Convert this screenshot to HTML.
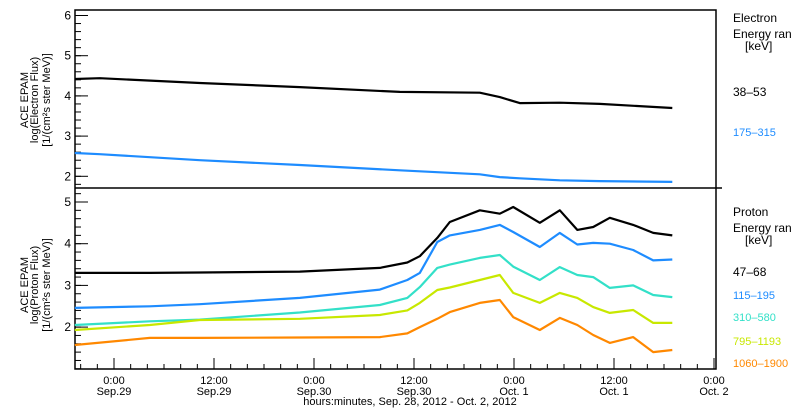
<!DOCTYPE html>
<html><head><meta charset="utf-8"><style>
body{margin:0;background:#fff;}
svg{display:block;font-family:"Liberation Sans",sans-serif;}
</style></head><body>
<svg id="c" width="800" height="410" viewBox="0 0 800 410" xmlns="http://www.w3.org/2000/svg">
<g id="axes"></g>
<g id="marks"></g>
<g font-size="11" text-anchor="middle">
<text transform="translate(28,100) rotate(-90)">ACE EPAM</text>
<text transform="translate(38,100) rotate(-90)">log(Electron Flux)</text>
<text transform="translate(50,100) rotate(-90)">[1/(cm²s ster MeV)]</text>
</g>
<g font-size="11" text-anchor="middle">
<text transform="translate(28,285) rotate(-90)">ACE EPAM</text>
<text transform="translate(38,285) rotate(-90)">log(Proton Flux)</text>
<text transform="translate(50,285) rotate(-90)">[1/(cm²s ster MeV)]</text>
</g>
<g font-size="12">
<text x="733" y="22">Electron</text><text x="733" y="38">Energy ran</text><text x="745" y="50">[keV]</text>
<text x="733" y="96" fill="#000">38–53</text><text x="733" y="136" fill="#1e8cff" font-size="11">175–315</text>
</g>
<g font-size="12">
<text x="733" y="216">Proton</text><text x="733" y="232">Energy ran</text><text x="745" y="244">[keV]</text>
<text x="733" y="276">47–68</text>
<text x="733" y="299" fill="#1e8cff" font-size="11">115–195</text>
<text x="733" y="321" fill="#33e0c8" font-size="11">310–580</text>
<text x="733" y="345" fill="#c8e800" font-size="11">795–1193</text>
<text x="733" y="367" fill="#ff8800" font-size="11">1060–1900</text>
</g>
<text x="410" y="405" font-size="11" text-anchor="middle">hours:minutes, Sep. 28, 2012 - Oct. 2, 2012</text>
</svg>
<script>
const xTickHours=[0,12,24,36,48,60,72];
const xTickTimes=["0:00","12:00","0:00","12:00","0:00","12:00","0:00"];
const xTickDates=["Sep.29","Sep.29","Sep.30","Sep.30","Oct. 1","Oct. 1","Oct. 2"];
const topTicks=[2,3,4,5,6];
const botTicks=[2,3,4,5];
const eHours=[-4.7,-1.7,10.3,22.3,34.3,43.9,46.3,48.7,53.5,58.3,67];
const e38=[4.42,4.44,4.32,4.22,4.1,4.08,3.97,3.82,3.83,3.8,3.7];
const e175=[2.58,2.55,2.4,2.28,2.15,2.05,1.98,1.95,1.9,1.88,1.86];
const pHours=[-4.7,4.3,10.3,22.3,31.9,35.2,36.7,38.8,40.3,43.9,46.3,47.9,51.1,53.5,55.6,57.5,59.5,62.3,64.7,67];
const p47=[3.3,3.3,3.31,3.33,3.42,3.55,3.7,4.14,4.52,4.8,4.72,4.88,4.5,4.8,4.33,4.4,4.62,4.45,4.26,4.2];
const p115=[2.46,2.5,2.55,2.7,2.9,3.13,3.3,4.04,4.2,4.33,4.45,4.28,3.92,4.26,3.98,4.02,4.0,3.85,3.6,3.62];
const p310=[2.05,2.14,2.18,2.35,2.53,2.7,2.96,3.42,3.5,3.66,3.73,3.45,3.13,3.44,3.25,3.2,2.94,3.0,2.77,2.72];
const p795=[1.93,2.05,2.17,2.2,2.29,2.4,2.58,2.89,2.95,3.13,3.25,2.82,2.58,2.82,2.7,2.48,2.34,2.41,2.1,2.1];
const p1060=[1.57,1.74,1.74,1.75,1.76,1.85,2.0,2.2,2.36,2.58,2.65,2.24,1.93,2.22,2.05,1.81,1.62,1.76,1.4,1.45];
const NS='http://www.w3.org/2000/svg';
const L=75,R=716,T=10,MID=188,B=369;
const xs=h=>114+h*100/12;
const yTop=v=>15.5+(6-v)*40.2;
const yBot=v=>202+(5-v)*41.7;
const axes=document.getElementById('axes'),marks=document.getElementById('marks');
function mk(tag,attrs,parent){const e=document.createElementNS(NS,tag);for(const k in attrs)e.setAttribute(k,attrs[k]);parent.appendChild(e);return e;}
const frame=mk('rect',{x:L,y:T,width:R-L,height:B-T,fill:'none',stroke:'#000','stroke-width':1.5},axes);


const div=mk('line',{x1:L,x2:R+6,y1:MID,y2:MID,stroke:'#000','stroke-width':1.5},axes);


function yAxis(ticks,fy,lo,hi,name){
  const g=mk('g',{},axes);
  
  
  for(let v=Math.ceil(lo*5)/5;v<=hi;v+=0.2){const y=fy(v);if(y<T||y>B)continue;mk('line',{x1:L,x2:L+6,y1:y,y2:y,stroke:'#000'},g);}
  ticks.forEach(v=>{const y=fy(v);mk('line',{x1:L,x2:L+13,y1:y,y2:y,stroke:'#000'},g);
    const t=mk('text',{x:L-4,y:y+4,'font-size':12,'text-anchor':'end'},g);t.textContent=v;});
}
yAxis(topTicks,yTop,1.72,6.14,'top-y-axis');
yAxis(botTicks,yBot,1.0,5.3,'bottom-y-axis');
const xg=mk('g',{},axes);


for(let h=-4;h<=72;h+=2){const x=xs(h);if(x<L||x>R)continue;mk('line',{x1:x,x2:x,y1:B,y2:B-5,stroke:'#000'},xg);}
xTickHours.forEach((h,i)=>{const x=xs(h);mk('line',{x1:x,x2:x,y1:B,y2:B-11,stroke:'#000'},xg);
  const t1=mk('text',{x:x,y:384,'font-size':11,'text-anchor':'middle'},xg);t1.textContent=xTickTimes[i];
  const t2=mk('text',{x:x,y:395,'font-size':11,'text-anchor':'middle'},xg);t2.textContent=xTickDates[i];});
function series(hours,vals,fy,color,name){
  const pts=hours.map((h,i)=>xs(h).toFixed(1)+','+fy(vals[i]).toFixed(1)).join(' ');
  const p=mk('polyline',{points:pts,fill:'none',stroke:color,'stroke-width':2.2,'stroke-linejoin':'round'},marks);
  
  
}
series(eHours,e38,yTop,'#000','electron-38-53');
series(eHours,e175,yTop,'#1e8cff','electron-175-315');
series(pHours,p47,yBot,'#000','proton-47-68');
series(pHours,p115,yBot,'#1e8cff','proton-115-195');
series(pHours,p310,yBot,'#33e0c8','proton-310-580');
series(pHours,p795,yBot,'#c8e800','proton-795-1193');
series(pHours,p1060,yBot,'#ff8800','proton-1060-1900');
</script>
</body></html>
